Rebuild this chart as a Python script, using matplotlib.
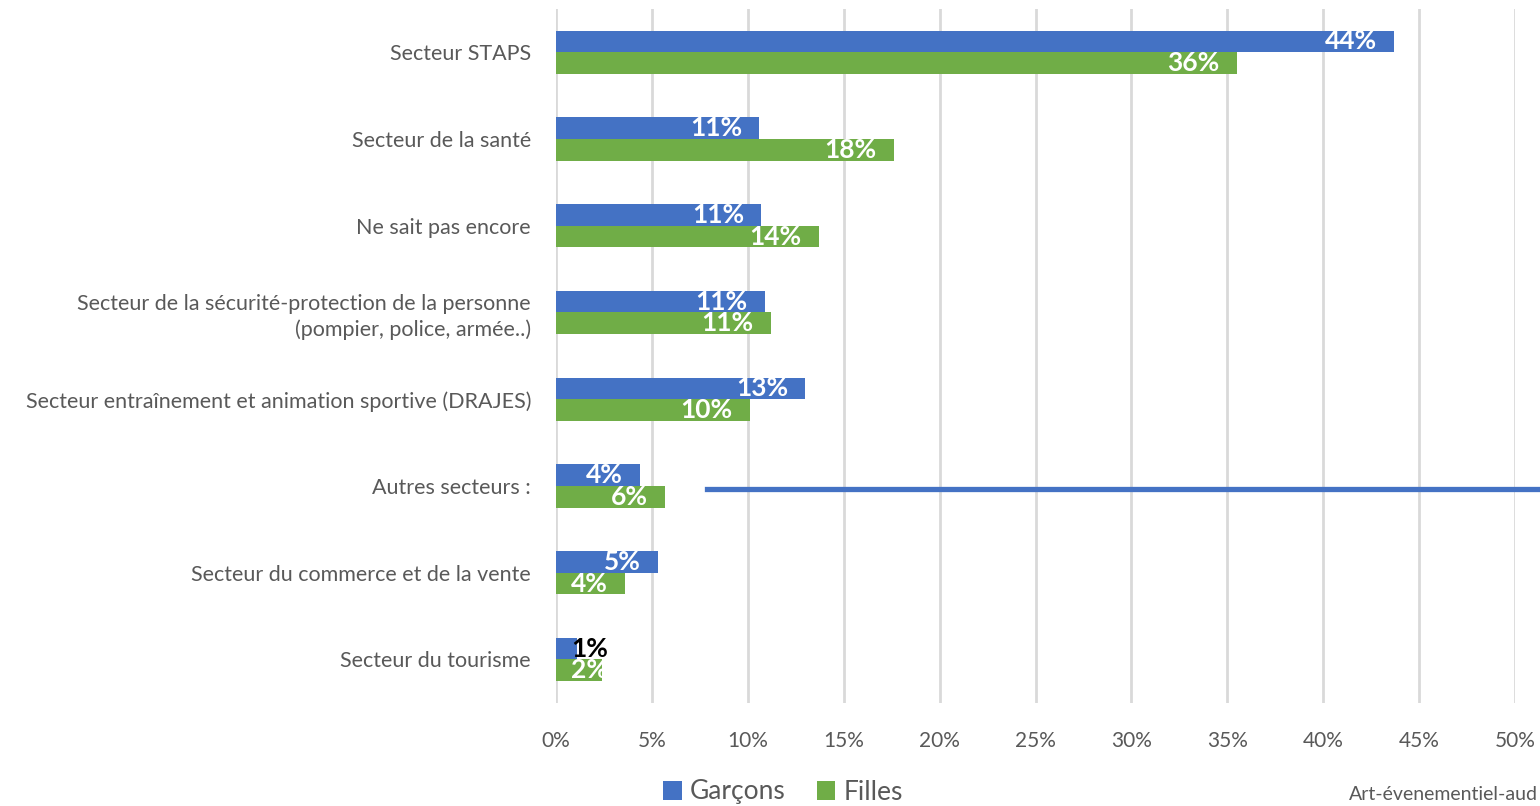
import matplotlib
matplotlib.use("Agg")
import matplotlib.pyplot as plt
from matplotlib.lines import Line2D
import numpy as np

plt.rcParams["font.family"] = ["Lato", "DejaVu Sans"]

categories = [
    "Secteur STAPS",
    "Secteur de la santé",
    "Ne sait pas encore",
    "Secteur de la sécurité-protection de la personne\n(pompier, police, armée..)",
    "Secteur entraînement et animation sportive (DRAJES)",
    "Autres secteurs :",
    "Secteur du commerce et de la vente",
    "Secteur du tourisme",
]
garcons = [0.437, 0.106, 0.107, 0.109, 0.130, 0.044, 0.053, 0.011]
filles = [0.355, 0.176, 0.137, 0.112, 0.101, 0.057, 0.036, 0.024]

BLUE = "#4472C4"
GREEN = "#70AD47"
GREY = "#595959"

fig = plt.figure(figsize=(15.4, 8.06), dpi=100)
ax = fig.add_axes([556 / 1540, 0.128, (1515 - 556) / 1540, 0.861])

y = np.arange(len(categories))
h = 0.25
bars_g = ax.barh(y - h / 2, garcons, height=h, color=BLUE, label="Garçons", zorder=2)
bars_f = ax.barh(y + h / 2, filles, height=h, color=GREEN, label="Filles", zorder=2)

ax.set_ylim(len(categories) - 0.5, -0.5)
ax.set_xlim(0, 0.5)
ax.set_yticks(y)
ax.set_yticklabels(categories, fontsize=15.5, color=GREY, ha="right",
                   linespacing=1.3)
ax.set_xticks(np.arange(0, 0.501, 0.05))
ax.set_xticklabels([f"{int(round(v * 100))}%" for v in np.arange(0, 0.501, 0.05)],
                   fontsize=15, color=GREY)
ax.tick_params(axis="both", length=0)
ax.tick_params(axis="y", pad=18)
ax.tick_params(axis="x", pad=20)
ax.grid(axis="x", color="#D9D9D9", linewidth=2, zorder=0)
for s in ax.spines.values():
    s.set_visible(False)

# data labels
for bars, vals, small_col in ((bars_g, garcons, "black"), (bars_f, filles, "white")):
    for b, v in zip(bars, vals):
        yc = b.get_y() + b.get_height() / 2
        txt = f"{round(v * 100):.0f}%"
        if v < 0.03:
            ax.text(0.008, yc, txt, ha="left", va="center", fontsize=19,
                    fontweight="bold", color=small_col, zorder=3)
        else:
            ax.text(v - 0.009, yc, txt, ha="right", va="center", fontsize=19,
                    fontweight="bold", color="white", zorder=3)

# stray line shape from the original sheet
fig.add_artist(Line2D([707 / 1540, 1.0], [1 - 489 / 806, 1 - 489 / 806],
                      color=BLUE, linewidth=3.8, transform=fig.transFigure))

leg = fig.legend(handles=[bars_g, bars_f], loc="center", ncol=2,
                 bbox_to_anchor=(783 / 1540, 1 - 792 / 806), frameon=False,
                 fontsize=19, handlelength=0.7, handleheight=0.7,
                 handletextpad=0.3, columnspacing=1.2)
for t in leg.get_texts():
    t.set_color(GREY)

fig.text(1538 / 1540, 1 - 795 / 806, "Art-évenementiel-aud", fontsize=14,
         color=GREY, ha="right", va="center")

fig.savefig("out.png", dpi=100)
